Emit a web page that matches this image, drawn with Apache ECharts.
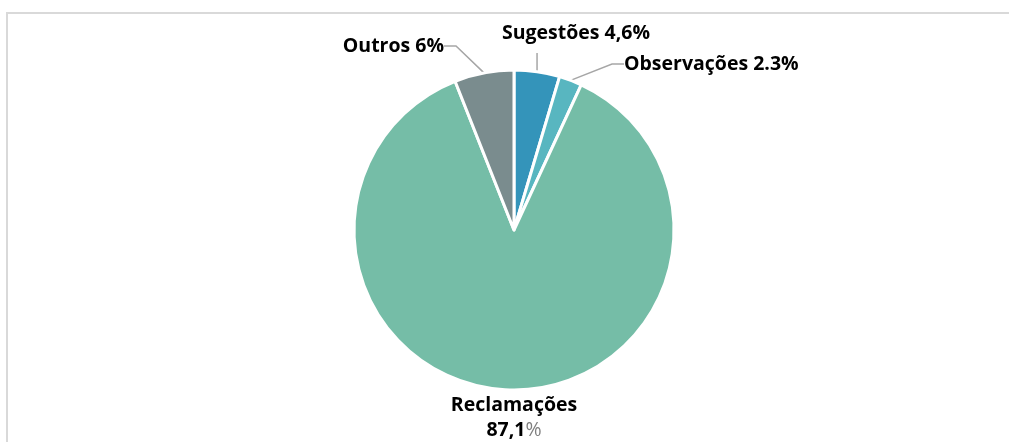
<!DOCTYPE html>
<html>
<head>
<meta charset="utf-8">
<script src="https://cdn.jsdelivr.net/npm/echarts@6/dist/echarts.min.js"></script>
<style>
html,body{margin:0;padding:0;background:#fff;}
#frame{position:absolute;left:6px;top:12px;width:1010px;height:440px;border-left:2px solid #d9d9d9;border-top:2px solid #d9d9d9;}
#chart{position:absolute;left:0;top:0;width:1009px;height:442px;}
</style>
</head>
<body>
<div id="frame"></div>
<div id="chart"></div>
<script>
const categories = ['Sugestões', 'Observações', 'Reclamações', 'Outros'];
const values = [4.6, 2.3, 87.1, 6];
const valueTexts = ['4,6', '2.3', '87,1', '6'];
const colors = ['#3494BA', '#58B6C0', '#75BDA7', '#7A8C8E'];

const labelSpots = [
  {x: 576, y: 33, align: 'center', vertical: true},
  {x: 624, y: 64, align: 'left'},
  {x: 514, y: 418, align: 'center'},
  {x: 444, y: 46, align: 'right'}
];

const chart = echarts.init(document.getElementById('chart'));
const data = categories.map((c, i) => ({
  name: c,
  value: values[i],
  itemStyle: {color: colors[i]},
  label: i === 2 ? {formatter: '{b|' + c + '}\n{b|' + valueTexts[i] + '}{g|%}'} : {formatter: '{b|' + c + ' ' + valueTexts[i] + '%}'},
  labelLine: {show: i !== 2}
}));

const FONT = '"Open Sans", "Noto Sans", sans-serif';
chart.setOption({
  animation: false,
  series: [{
    type: 'pie',
    center: [514, 230],
    radius: 160,
    startAngle: 90,
    clockwise: true,
    data: data,
    itemStyle: {borderColor: '#fff', borderWidth: 3},
    label: {
      show: true,
      position: 'outside',
      rich: {
        b: {fontFamily: FONT, fontWeight: 700, fontSize: 19.5, color: '#000', lineHeight: 25},
        g: {fontFamily: FONT, fontWeight: 400, fontSize: 19.5, color: '#7f7f7f', lineHeight: 25}
      }
    },
    labelLine: {show: true, length: 12, length2: 12, lineStyle: {color: '#a6a6a6', width: 1.5}},
    labelLayout: function (p) {
      const s = labelSpots[p.dataIndex];
      const out = {x: s.x, y: s.y, align: s.align, verticalAlign: 'middle'};
      if (s.vertical && p.labelLinePoints && p.labelLinePoints.length) {
        const p0 = p.labelLinePoints[0];
        out.labelLinePoints = [[p0[0], p0[1]], [p0[0], s.y + 20], [p0[0], s.y + 20]];
      }
      return out;
    }
  }]
});
</script>
</body>
</html>
